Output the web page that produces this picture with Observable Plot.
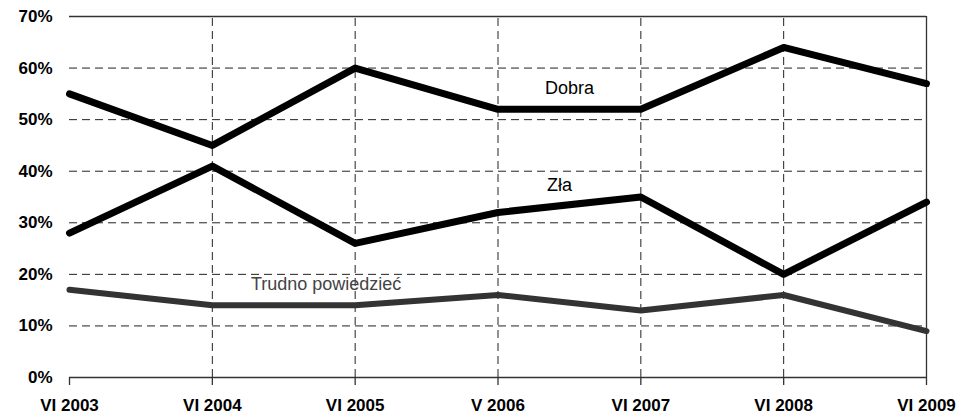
<!DOCTYPE html>
<html>
<head>
<meta charset="utf-8">
<script src="https://cdn.jsdelivr.net/npm/d3@7"></script>
<script src="https://cdn.jsdelivr.net/npm/@observablehq/plot@0.6"></script>
<style>
  html, body { margin: 0; padding: 0; background: #fff; }
  svg { display: block; }
</style>
</head>
<body>
<div id="chart"></div>
<script>
const periods = ["VI 2003", "VI 2004", "VI 2005", "V 2006", "VI 2007", "VI 2008", "VI 2009"];
const dobra = [55, 45, 60, 52, 52, 64, 57];
const zla = [28, 41, 26, 32, 35, 20, 34];
const trudno = [17, 14, 14, 16, 13, 16, 9];
const yTicks = [0, 10, 20, 30, 40, 50, 60, 70];
const seriesLabels = [
  {text: "Dobra", x: 3.5, y: 56, color: "#000", anchor: "middle"},
  {text: "Zła", x: 3.43, y: 37.2, color: "#000", anchor: "middle"},
  {text: "Trudno powiedzieć", x: 1.27, y: 18, color: "#444", anchor: "start"}
];

const idx = periods.map((_, i) => i);
const dash = "8,5";

const chart = Plot.plot({
  width: 957,
  height: 416,
  marginLeft: 69,
  marginRight: 31,
  marginTop: 16,
  marginBottom: 39,
  style: {fontFamily: "'Liberation Sans', Arial, sans-serif", overflow: "visible", background: "#fff", color: "#000"},
  x: {domain: [0, periods.length - 1]},
  y: {domain: [0, 70]},
  marks: [
    Plot.ruleY(yTicks.filter(d => d > 0 && d < 70), {stroke: "#222", strokeWidth: 1, strokeDasharray: dash}),
    Plot.ruleX(idx.slice(1, -1), {y1: 0, y2: 70, stroke: "#222", strokeWidth: 1, strokeDasharray: dash}),
    Plot.ruleY([0, 70], {stroke: "#333", strokeWidth: 1.3}),
    Plot.ruleX([periods.length - 1], {y1: 0, y2: 70, stroke: "#333", strokeWidth: 1.3}),
    Plot.axisY({ticks: yTicks, tickFormat: d => d + "%", tickSize: 0, tickPadding: 17, fontSize: 17, fontWeight: "bold", label: null}),
    Plot.axisX({ticks: idx, tickFormat: i => periods[i], tickSize: 8, tickPadding: 13, fontSize: 17, fontWeight: "bold", label: null, stroke: "#333", strokeWidth: 1.3}),
    Plot.lineY(trudno, {x: (d, i) => i, y: d => d, stroke: "#333", strokeWidth: 6, strokeLinejoin: "round", strokeLinecap: "round"}),
    Plot.lineY(zla, {x: (d, i) => i, y: d => d, stroke: "#000", strokeWidth: 7, strokeLinejoin: "round", strokeLinecap: "round"}),
    Plot.lineY(dobra, {x: (d, i) => i, y: d => d, stroke: "#000", strokeWidth: 7, strokeLinejoin: "round", strokeLinecap: "round"}),
    Plot.text(seriesLabels.filter(d => d.anchor === "middle"), {x: "x", y: "y", text: "text", fill: "color", textAnchor: "middle", fontSize: 18, lineAnchor: "middle"}),
    Plot.text(seriesLabels.filter(d => d.anchor === "start"), {x: "x", y: "y", text: "text", fill: "color", textAnchor: "start", fontSize: 18, lineAnchor: "middle"})
  ]
});
document.getElementById("chart").appendChild(chart);
</script>
</body>
</html>
